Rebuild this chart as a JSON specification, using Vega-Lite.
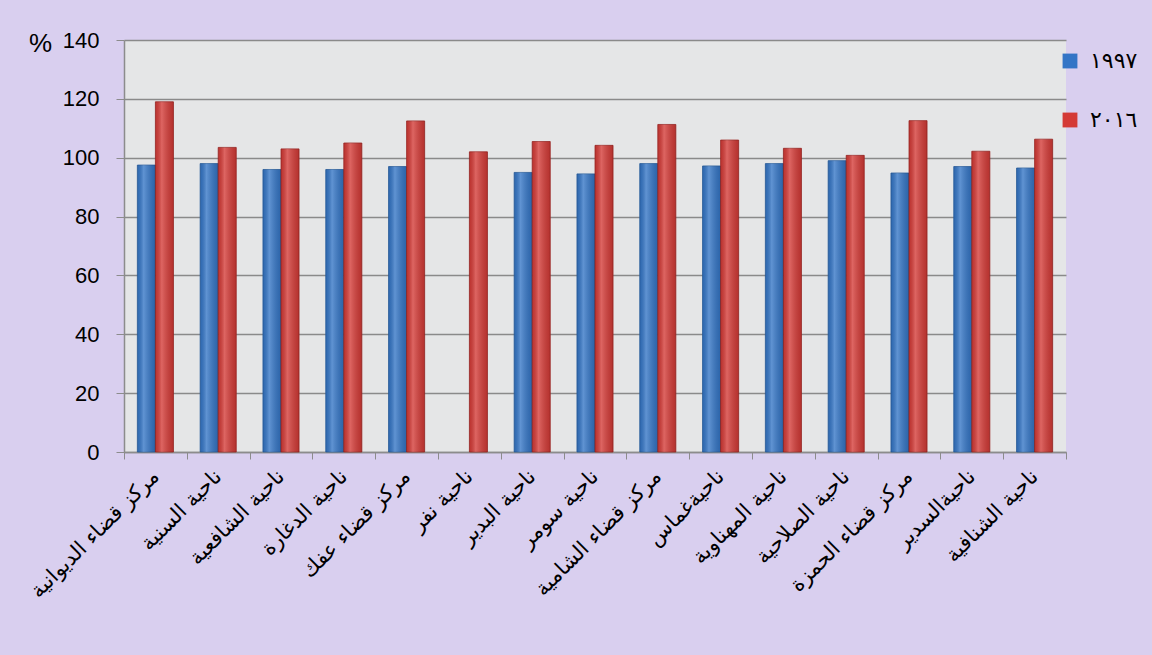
{
  "$schema": "https://vega.github.io/schema/vega-lite/v6.json",
  "width": 942,
  "height": 412,
  "autosize": {"type": "none"},
  "padding": {"left": 124, "top": 40, "right": 86, "bottom": 203},
  "background": "#d9cfef",
  "config": {
    "view": {"fill": "#e5e6e7", "stroke": null},
    "font": "Liberation Sans"
  },
  "data": {
    "values": [
      {"region": "مركز قضاء الديوانية", "year": "١٩٩٧", "value": 97.5},
      {"region": "مركز قضاء الديوانية", "year": "٢٠١٦", "value": 119},
      {"region": "ناحية السنية", "year": "١٩٩٧", "value": 98},
      {"region": "ناحية السنية", "year": "٢٠١٦", "value": 103.5},
      {"region": "ناحية الشافعية", "year": "١٩٩٧", "value": 96},
      {"region": "ناحية الشافعية", "year": "٢٠١٦", "value": 103},
      {"region": "ناحية الدغارة", "year": "١٩٩٧", "value": 96},
      {"region": "ناحية الدغارة", "year": "٢٠١٦", "value": 105},
      {"region": "مركز قضاء عفك", "year": "١٩٩٧", "value": 97},
      {"region": "مركز قضاء عفك", "year": "٢٠١٦", "value": 112.5},
      {"region": "ناحية نفر", "year": "٢٠١٦", "value": 102},
      {"region": "ناحية البدير", "year": "١٩٩٧", "value": 95},
      {"region": "ناحية البدير", "year": "٢٠١٦", "value": 105.5},
      {"region": "ناحية سومر", "year": "١٩٩٧", "value": 94.5},
      {"region": "ناحية سومر", "year": "٢٠١٦", "value": 104.2},
      {"region": "مركز قضاء الشامية", "year": "١٩٩٧", "value": 98},
      {"region": "مركز قضاء الشامية", "year": "٢٠١٦", "value": 111.3},
      {"region": "ناحيةغماس", "year": "١٩٩٧", "value": 97.2},
      {"region": "ناحيةغماس", "year": "٢٠١٦", "value": 106},
      {"region": "ناحية المهناوية", "year": "١٩٩٧", "value": 98},
      {"region": "ناحية المهناوية", "year": "٢٠١٦", "value": 103.2},
      {"region": "ناحية الصلاحية", "year": "١٩٩٧", "value": 99},
      {"region": "ناحية الصلاحية", "year": "٢٠١٦", "value": 100.8},
      {"region": "مركز قضاء الحمزة", "year": "١٩٩٧", "value": 94.8},
      {"region": "مركز قضاء الحمزة", "year": "٢٠١٦", "value": 112.6},
      {"region": "ناحيةالسدير", "year": "١٩٩٧", "value": 97},
      {"region": "ناحيةالسدير", "year": "٢٠١٦", "value": 102.2},
      {"region": "ناحية الشنافية", "year": "١٩٩٧", "value": 96.5},
      {"region": "ناحية الشنافية", "year": "٢٠١٦", "value": 106.3}
    ]
  },
  "encoding": {
    "x": {
      "field": "region",
      "type": "nominal",
      "sort": null,
      "scale": {"paddingInner": 0, "paddingOuter": 0},
      "axis": {
        "title": null,
        "labelAngle": -45,
        "labelAlign": "right",
        "labelBaseline": "middle",
        "labelFont": "DejaVu Sans",
        "labelFontSize": 21,
        "labelColor": "#000000",
        "labelPadding": 14,
        "labelLimit": 300,
        "tickBand": "extent",
        "tickColor": "#8c8c8c",
        "tickSize": 7,
        "domainColor": "#8c8c8c",
        "domainWidth": 1.5
      }
    },
    "xOffset": {
      "field": "year",
      "type": "nominal",
      "scale": {"paddingInner": 0, "paddingOuter": 0.74}
    },
    "y": {
      "field": "value",
      "type": "quantitative",
      "scale": {"domain": [0, 140]},
      "axis": {
        "values": [0, 20, 40, 60, 80, 100, 120, 140],
        "title": "%",
        "titleAngle": 0,
        "titleX": -84,
        "titleY": 3,
        "titleAlign": "center",
        "titleBaseline": "middle",
        "titleFontSize": 26,
        "titleFontWeight": "normal",
        "titleColor": "#000000",
        "labelFontSize": 22,
        "labelColor": "#000000",
        "labelPadding": 17,
        "tickColor": "#8c8c8c",
        "tickSize": 8,
        "domainColor": "#8c8c8c",
        "domainWidth": 1.5,
        "grid": true,
        "gridColor": "#8a8a8a",
        "gridWidth": 1.5
      }
    }
  },
  "layer": [
    {
      "mark": {"type": "bar", "strokeWidth": 0.8},
      "encoding": {
        "color": {
          "field": "year",
          "type": "nominal",
          "scale": {"domain": ["١٩٩٧", "٢٠١٦"], "range": ["#3375c6", "#d43a36"]},
          "legend": {
            "title": null,
            "orient": "none",
            "legendX": 935,
            "legendY": 10,
            "symbolType": "square",
            "symbolSize": 220,
            "symbolStrokeWidth": 0,
            "labelFont": "DejaVu Sans",
            "labelFontSize": 22,
            "labelColor": "#000000",
            "labelOffset": 9,
            "rowPadding": 37
          }
        },
        "stroke": {
          "field": "year",
          "type": "nominal",
          "scale": {"domain": ["١٩٩٧", "٢٠١٦"], "range": ["#285d9c", "#9c2724"]},
          "legend": null
        }
      }
    },
    {
      "mark": {
        "type": "bar",
        "color": {
          "gradient": "linear",
          "x1": 0, "x2": 1, "y1": 0, "y2": 0,
          "stops": [
            {"offset": 0, "color": "rgba(0,0,0,0.10)"},
            {"offset": 0.35, "color": "rgba(255,255,255,0.22)"},
            {"offset": 1, "color": "rgba(0,0,0,0.14)"}
          ]
        }
      },
      "encoding": {}
    }
  ]
}
